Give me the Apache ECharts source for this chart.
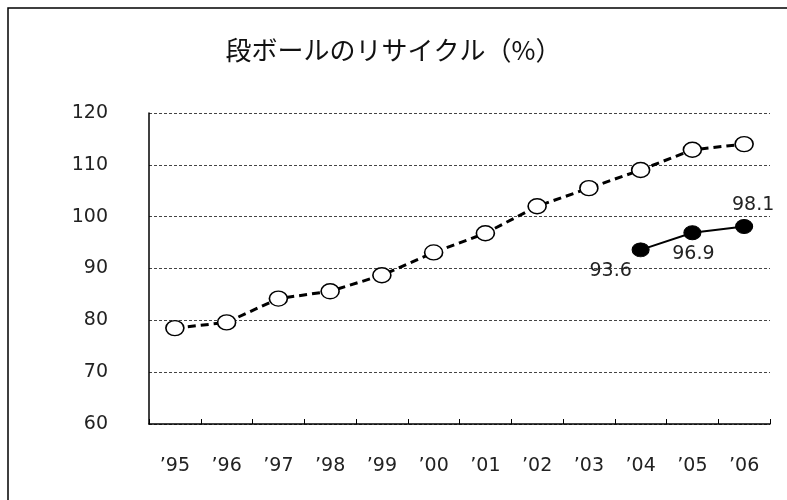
<!DOCTYPE html>
<html>
<head>
<meta charset="utf-8">
<script src="https://cdn.jsdelivr.net/npm/echarts@6/dist/echarts.min.js"></script>
<style>html,body{margin:0;padding:0;background:#fff}#c{width:787px;height:500px}</style>
</head>
<body>
<div id="c"></div>
<script>
var categories = ['’95','’96','’97','’98','’99','’00','’01','’02','’03','’04','’05','’06'];
var seriesA = [78.5, 79.6, 84.2, 85.6, 88.7, 93.1, 96.8, 102.0, 105.5, 109.0, 112.9, 114.0];
var seriesB = [null, null, null, null, null, null, null, null, null, 93.6, 96.9, 98.1];
var titleText = '段ボールのリサイクル（%）';
var yMin = 60, yMax = 120, yStep = 10;

var labelOffsets = {9: [-30, 21], 10: [1, 21], 11: [9, -21]};
var bData = seriesB.map(function (v, i) {
  if (v === null) return null;
  var o = labelOffsets[i] || [0, 0];
  return {value: v, label: {show: true, position: 'inside', offset: o}};
});

var chart = echarts.init(document.getElementById('c'), null, {renderer: 'canvas'});
chart.setOption({
  animation: false,
  backgroundColor: '#fff',
  title: {
    text: titleText, left: 'center', top: 32,
    textStyle: {fontFamily: 'Noto Sans CJK JP', fontSize: 26, fontWeight: 'normal', color: '#111'}
  },
  graphic: [{
    type: 'rect', shape: {x: 8, y: 8, width: 800, height: 520},
    style: {fill: 'none', stroke: '#000', lineWidth: 1.5}, silent: true, z: -1
  }],
  grid: {left: 149, right: 17, top: 113, bottom: 76},
  xAxis: {
    type: 'category', data: categories, boundaryGap: true,
    axisLine: {lineStyle: {color: '#000', width: 1.5}},
    axisTick: {show: true, inside: true, length: 5, lineStyle: {color: '#000'}},
    axisLabel: {margin: 33, fontFamily: 'DejaVu Sans', fontSize: 19, color: '#222'}
  },
  yAxis: {
    type: 'value', min: yMin, max: yMax, interval: yStep,
    axisLine: {show: true, lineStyle: {color: '#000', width: 1.5}},
    axisTick: {show: false},
    splitLine: {lineStyle: {color: '#444', type: [3, 2], width: 1}},
    axisLabel: {margin: 41, fontFamily: 'DejaVu Sans', fontSize: 19, color: '#222'}
  },
  series: [{
    type: 'line', data: seriesA,
    symbol: 'circle', symbolSize: [18, 15],
    lineStyle: {color: '#000', width: 3, type: [8, 5]},
    itemStyle: {color: '#fff', borderColor: '#000', borderWidth: 1.5},
    z: 3
  }, {
    type: 'line', data: bData,
    symbol: 'circle', symbolSize: [17, 14],
    lineStyle: {color: '#000', width: 2},
    itemStyle: {color: '#000', borderColor: '#000', borderWidth: 1},
    label: {fontFamily: 'DejaVu Sans', fontSize: 19, color: '#222', formatter: '{c}'},
    z: 4
  }]
});
</script>
</body>
</html>
